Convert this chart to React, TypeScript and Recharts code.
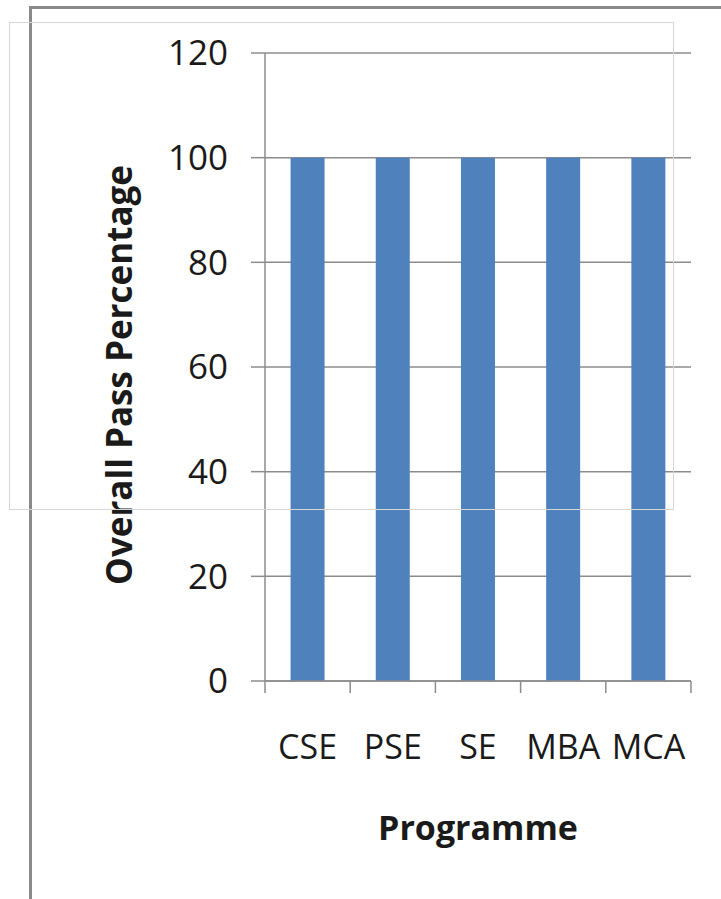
import React from 'react';
import { BarChart, Bar, XAxis, YAxis, CartesianGrid } from 'recharts';

const programmes = ['CSE', 'PSE', 'SE', 'MBA', 'MCA'];
const passPercentage = [100, 100, 100, 100, 100];
const yTicks = [0, 20, 40, 60, 80, 100, 120];

const data = programmes.map((p, i) => ({ programme: p, pass: passPercentage[i] }));

const FONT = '"Open Sans", "DejaVu Sans", sans-serif';
const AXIS = '#8c8c8c';
const TICK_LEN = 12;
const TICK_GAP = 42;

const CategoryTick = (props: any) => {
  const { x, y, payload, index, visibleTicksCount } = props;
  const half = payload && typeof payload.offset === 'number' && payload.offset > 0 ? payload.offset : 42.6;
  const axisY = y - TICK_LEN - TICK_GAP;
  const isLast = index === (visibleTicksCount ?? 5) - 1;
  return (
    <g>
      <line x1={x - half} x2={x - half} y1={axisY} y2={axisY + TICK_LEN} stroke={AXIS} strokeWidth={1.5} />
      {isLast && (
        <line x1={x + half} x2={x + half} y1={axisY} y2={axisY + TICK_LEN} stroke={AXIS} strokeWidth={1.5} />
      )}
      <text x={x} y={y} dy="0.71em" textAnchor="middle" fontSize={34} fill="#1a1a1a" fontFamily={FONT}>
        {payload.value}
      </text>
    </g>
  );
};

export default function App() {
  return (
    <div style={{ position: 'absolute', left: 0, top: 0, width: 721, height: 899, background: '#fff', fontFamily: FONT }}>
      <BarChart
        width={721}
        height={899}
        data={data}
        margin={{ top: 53, right: 30, bottom: 48, left: 115 }}
        barCategoryGap="30%"
      >
        <CartesianGrid horizontal={true} vertical={false} stroke={AXIS} strokeWidth={1.5} />
        <XAxis
          dataKey="programme"
          height={170}
          tickSize={TICK_LEN}
          tickMargin={TICK_GAP}
          tickLine={false}
          axisLine={{ stroke: AXIS, strokeWidth: 1.5 }}
          interval={0}
          tick={<CategoryTick />}
          label={{ value: 'Programme', position: 'insideBottom', offset: 11, fontSize: 34, fontWeight: 700, fill: '#1a1a1a', fontFamily: FONT }}
        />
        <YAxis
          domain={[0, 120]}
          ticks={yTicks}
          width={150}
          tickSize={14}
          tickMargin={23}
          tick={{ fontSize: 35, fill: '#1a1a1a', fontFamily: FONT }}
          tickLine={{ stroke: AXIS, strokeWidth: 1.5 }}
          axisLine={{ stroke: AXIS, strokeWidth: 1.5 }}
          label={{ value: 'Overall Pass Percentage', angle: -90, position: 'center', dx: -70, dy: 8, fontSize: 35, fontWeight: 700, fill: '#1a1a1a', fontFamily: FONT }}
        />
        <Bar dataKey="pass" fill="#4F81BD" isAnimationActive={false} />
      </BarChart>
      <div style={{ position: 'absolute', left: 29, top: 6, width: 692, height: 3, background: '#8a8a8a', pointerEvents: 'none' }} />
      <div style={{ position: 'absolute', left: 29, top: 6, width: 3, height: 893, background: '#8a8a8a', pointerEvents: 'none' }} />
      <div style={{ position: 'absolute', left: 9, top: 22, width: 663, height: 486, border: '1.5px solid #d6d6d6', pointerEvents: 'none' }} />
    </div>
  );
}
